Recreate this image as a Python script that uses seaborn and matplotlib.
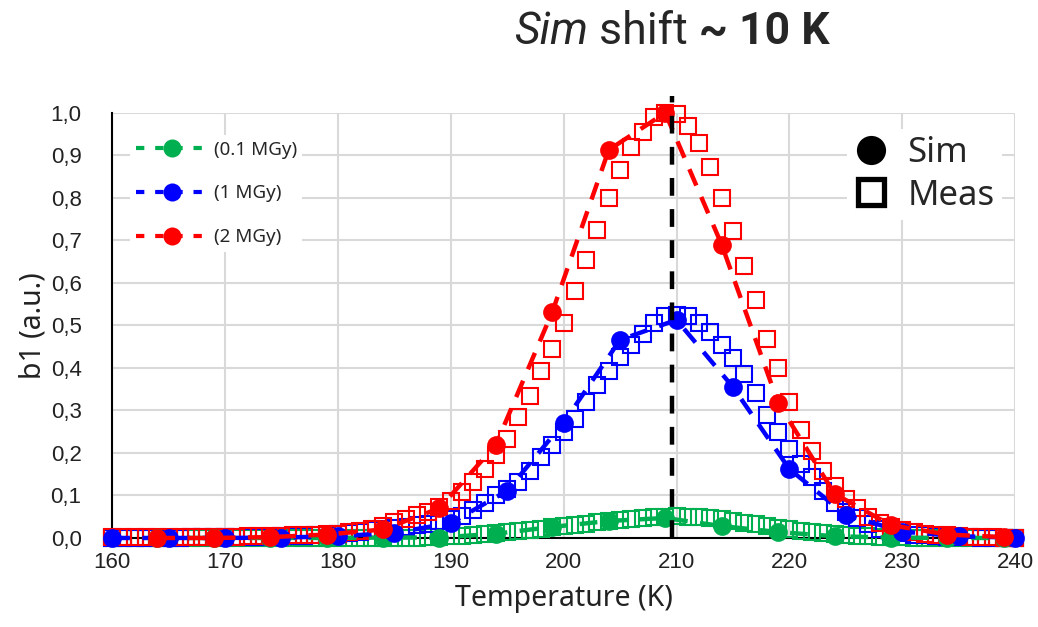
import numpy as np
import pandas as pd
import seaborn as sns
import matplotlib.pyplot as plt
from matplotlib.lines import Line2D

# ---------------- data ----------------
sim_x_shift = [164, 169, 174, 179, 184, 189, 194, 199, 204, 209, 214, 219, 224, 229, 234, 239]
sim_x_blue = [160, 165, 170, 175, 180, 185, 190, 195, 200, 205, 210, 215, 220, 225, 230, 235, 240]

sim_green = [0.000, 0.000, 0.000, 0.000, 0.001, 0.001, 0.010, 0.026, 0.040, 0.047, 0.028, 0.014, 0.004, 0.001, 0.000, 0.000]
sim_blue = [0.000, 0.000, 0.000, 0.001, 0.004, 0.012, 0.035, 0.111, 0.271, 0.466, 0.513, 0.355, 0.162, 0.054, 0.015, 0.004, 0.001]
sim_red = [0.000, 0.000, 0.002, 0.008, 0.020, 0.070, 0.219, 0.532, 0.913, 1.000, 0.690, 0.318, 0.104, 0.030, 0.008, 0.002]

meas_x = [160, 161, 162, 163, 164, 165, 166, 167, 168, 169,
          170, 171, 172, 173, 174, 175, 176, 177, 178, 179,
          180, 181, 182, 183, 184, 185, 186, 187, 188, 189,
          190, 191, 192, 193, 194, 195, 196, 197, 198, 199,
          200, 201, 202, 203, 204, 205, 206, 207, 208, 209,
          210, 211, 212, 213, 214, 215, 216, 217, 218, 219,
          220, 221, 222, 223, 224, 225, 226, 227, 228, 229,
          230, 231, 232, 233, 234, 235, 236, 237, 238, 239, 240]

meas_red = [0.002, 0.002, 0.002, 0.002, 0.002, 0.002, 0.002, 0.002, 0.003, 0.003,
            0.003, 0.003, 0.004, 0.004, 0.005, 0.005, 0.006, 0.007, 0.008, 0.009,
            0.010, 0.013, 0.017, 0.022, 0.029, 0.038, 0.045, 0.053, 0.062, 0.072,
            0.087, 0.107, 0.131, 0.162, 0.196, 0.232, 0.285, 0.335, 0.393, 0.445,
            0.505, 0.580, 0.654, 0.725, 0.800, 0.866, 0.920, 0.955, 0.990, 1.000,
            0.998, 0.970, 0.930, 0.873, 0.800, 0.723, 0.640, 0.560, 0.468, 0.400,
            0.320, 0.255, 0.205, 0.157, 0.122, 0.092, 0.070, 0.050, 0.036, 0.026,
            0.019, 0.014, 0.010, 0.008, 0.006, 0.004, 0.003, 0.002, 0.002, 0.001, 0.001]

meas_blue = [0.001, 0.001, 0.001, 0.001, 0.001, 0.001, 0.001, 0.002, 0.002, 0.002,
             0.002, 0.002, 0.003, 0.003, 0.003, 0.004, 0.004, 0.005, 0.006, 0.008,
             0.010, 0.012, 0.015, 0.018, 0.021, 0.024, 0.026, 0.030, 0.034, 0.040,
             0.045, 0.052, 0.065, 0.082, 0.100, 0.115, 0.132, 0.158, 0.190, 0.219,
             0.250, 0.280, 0.320, 0.360, 0.392, 0.425, 0.455, 0.480, 0.505, 0.522,
             0.525, 0.522, 0.505, 0.485, 0.455, 0.423, 0.385, 0.340, 0.290, 0.250,
             0.210, 0.175, 0.144, 0.110, 0.082, 0.062, 0.047, 0.033, 0.020, 0.015,
             0.011, 0.008, 0.006, 0.004, 0.003, 0.002, 0.002, 0.001, 0.001, 0.001, 0.001]

meas_green = [0.000, 0.000, 0.000, 0.000, 0.000, 0.000, 0.000, 0.000, 0.000, 0.000,
              0.000, 0.000, 0.000, 0.000, 0.000, 0.000, 0.000, 0.000, 0.000, 0.000,
              0.000, 0.000, 0.000, 0.000, 0.000, 0.000, 0.001, 0.001, 0.002, 0.003,
              0.004, 0.005, 0.007, 0.009, 0.011, 0.013, 0.016, 0.019, 0.022, 0.025,
              0.028, 0.031, 0.034, 0.037, 0.040, 0.042, 0.045, 0.047, 0.049, 0.050,
              0.051, 0.050, 0.049, 0.047, 0.044, 0.040, 0.036, 0.032, 0.028, 0.024,
              0.020, 0.017, 0.014, 0.011, 0.009, 0.007, 0.005, 0.004, 0.003, 0.002,
              0.002, 0.001, 0.001, 0.001, 0.001, 0.001, 0.001, 0.001, 0.001, 0.001, 0.001]

series_labels = ["(0.1 MGy)", "(1 MGy)", "(2 MGy)"]
type_labels = ["Sim", "Meas"]
x_ticks = [160, 170, 180, 190, 200, 210, 220, 230, 240]
x_tick_labels = ["160", "170", "180", "190", "200", "210", "220", "230", "240"]
y_ticks = [0.0, 0.1, 0.2, 0.3, 0.4, 0.5, 0.6, 0.7, 0.8, 0.9, 1.0]
y_tick_labels = ["0,0", "0,1", "0,2", "0,3", "0,4", "0,5", "0,6", "0,7", "0,8", "0,9", "1,0"]
shift_line_x = 209.6

GREEN, BLUE, RED = "#00b050", "#0000ff", "#ff0000"

# ---------------- style ----------------
sns.set_theme(style="whitegrid")
plt.rcParams['font.family'] = ['Noto Sans', 'DejaVu Sans']

fig = plt.figure(figsize=(10.38, 6.27), dpi=100)
ax = fig.add_axes([0.108, 0.142, 0.870, 0.678])
ax.set_facecolor("white")

# measured (open squares)
for y, c in [(meas_green, GREEN), (meas_blue, BLUE), (meas_red, RED)]:
    sns.lineplot(x=meas_x, y=y, ax=ax, linestyle="", marker="s", markersize=11.5,
                 markerfacecolor="none", markeredgecolor=c, markeredgewidth=1.5,
                 clip_on=False, zorder=3)

# simulated (dashed + filled circles)
dash = (0, (4.0, 2.8))
for xs, y, c in [(sim_x_shift, sim_green, GREEN), (sim_x_blue, sim_blue, BLUE), (sim_x_shift, sim_red, RED)]:
    sns.lineplot(x=xs, y=y, ax=ax, color=c, linestyle=dash, linewidth=3.2,
                 marker="o", markersize=13.5, markeredgewidth=0, markerfacecolor=c,
                 clip_on=False, zorder=4)

ax.axvline(shift_line_x, ymin=0, ymax=1.04, color="black", lw=3.2,
           linestyle=(0, (4, 3)), clip_on=False, zorder=5)

ax.set_xlim(160, 240)
ax.set_ylim(0, 1.0)
ax.set_xticks(x_ticks)
ax.set_xticklabels(x_tick_labels, family=["Liberation Sans", "DejaVu Sans"], fontsize=16)
ax.set_yticks(y_ticks)
ax.set_yticklabels(y_tick_labels, family=["Liberation Sans", "DejaVu Sans"], fontsize=16)
ax.tick_params(axis="y", length=0, pad=22, colors="#222222")
ax.tick_params(axis="x", length=0, pad=10, colors="#222222")
ax.grid(True, color="#d9d9d9", lw=1.5)
for s in ["top", "right"]:
    ax.spines[s].set_visible(False)
for s in ["left", "bottom"]:
    ax.spines[s].set_visible(True)
    ax.spines[s].set_color("black")
    ax.spines[s].set_linewidth(1.5)

ax.set_xlabel("Temperature (K)", fontsize=20.5, color="#222222", labelpad=8)
ax.set_ylabel("b1 (a.u.)", fontsize=20.5, color="#222222", labelpad=2)

# legends
h1 = [Line2D([], [], color=c, linestyle=(0, (2.0, 2.6)), lw=3, marker="o",
             markersize=13, markeredgewidth=0) for c in [GREEN, BLUE, RED]]
leg1 = ax.legend(h1, series_labels, loc="upper left", bbox_to_anchor=(0.02, 0.948),
                 frameon=True, facecolor="white", edgecolor="none", framealpha=1,
                 fontsize=13.5, handlelength=3.9, labelspacing=1.38, handletextpad=0.25,
                 borderpad=0.3, borderaxespad=0)
ax.add_artist(leg1)

h2 = [Line2D([], [], linestyle="", marker="o", markersize=21, color="black", markeredgewidth=0),
      Line2D([], [], linestyle="", marker="s", markersize=19, markerfacecolor="white",
             markeredgecolor="black", markeredgewidth=3.8)]
leg2 = ax.legend(h2, type_labels, loc="upper right", bbox_to_anchor=(0.985, 0.962),
                 frameon=True, facecolor="white", edgecolor="none", framealpha=1,
                 fontsize=25, handlelength=1.0, labelspacing=0.25, handletextpad=0.55,
                 borderpad=0.2, borderaxespad=0)

# title made of pieces
fig.canvas.draw()
r = fig.canvas.get_renderer()
tfam = ["Roboto", "DejaVu Sans"]
parts = [("Sim", "italic", "normal"), (" shift ", "normal", "normal"), ("~ 10 K", "normal", "bold")]
texts = [fig.text(0, 0, s, fontsize=32, style=st, weight=w, family=tfam, va="baseline")
         for s, st, w in parts]
widths = [t.get_window_extent(r).width for t in texts]
total = sum(widths)
cx = 672
x0 = cx - total / 2
yb = 1 - 44 / 627
for t, w in zip(texts, widths):
    t.set_position((x0 / 1038, yb))
    x0 += w

fig.savefig("out.png", dpi=100)
